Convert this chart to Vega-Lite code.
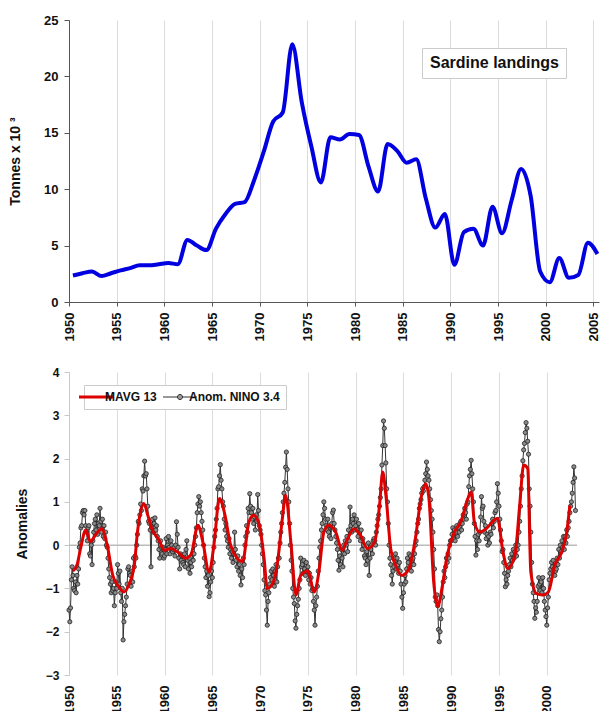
{
"$schema": "https://vega.github.io/schema/vega-lite/v6.json",
"padding": {"left": 8, "top": 14, "right": 2, "bottom": 0},
"spacing": 25,
"resolve": {"scale": {"color": "independent"}, "legend": {"color": "independent"}},
"config": {
  "view": {"stroke": null},
  "font": "Liberation Sans",
  "axis": {"labelFont": "Liberation Sans", "titleFont": "Liberation Sans", "labelFontWeight": "bold", "titleFontWeight": "bold", "labelColor": "#111", "titleColor": "#111"},
  "legend": {"labelFont": "Liberation Sans", "labelFontWeight": "bold", "labelColor": "#111"}
},
"datasets": {
"land": [
{"d":"1950-06","v":2.35},{"d":"1951-06","v":2.55},{"d":"1952-06","v":2.7},{"d":"1953-06","v":2.3},{"d":"1954-06","v":2.55},
{"d":"1955-06","v":2.8},{"d":"1956-06","v":3.0},{"d":"1957-06","v":3.25},{"d":"1958-06","v":3.25},{"d":"1959-06","v":3.35},
{"d":"1960-06","v":3.45},{"d":"1961-06","v":3.35},{"d":"1962-06","v":5.5},{"d":"1963-06","v":5.0},{"d":"1964-06","v":4.6},
{"d":"1965-06","v":6.5},{"d":"1966-06","v":7.8},{"d":"1967-06","v":8.7},{"d":"1968-06","v":8.85},{"d":"1969-06","v":10.8},
{"d":"1970-06","v":13.3},{"d":"1971-06","v":16.0},{"d":"1972-06","v":16.8},{"d":"1973-06","v":22.85},{"d":"1974-06","v":17.7},
{"d":"1975-06","v":13.8},{"d":"1976-06","v":10.6},{"d":"1977-06","v":14.6},{"d":"1978-06","v":14.4},{"d":"1979-06","v":14.9},
{"d":"1980-06","v":14.8},{"d":"1981-06","v":12.0},{"d":"1982-06","v":9.8},{"d":"1983-06","v":14.0},{"d":"1984-06","v":13.4},
{"d":"1985-06","v":12.35},{"d":"1986-06","v":12.65},{"d":"1987-06","v":9.2},{"d":"1988-06","v":6.6},{"d":"1989-06","v":7.8},
{"d":"1990-06","v":3.3},{"d":"1991-06","v":6.2},{"d":"1992-06","v":6.5},{"d":"1993-06","v":5.0},{"d":"1994-06","v":8.45},
{"d":"1995-06","v":6.1},{"d":"1996-06","v":9.0},{"d":"1997-06","v":11.8},{"d":"1998-06","v":9.4},{"d":"1999-06","v":2.7},
{"d":"2000-06","v":1.75},{"d":"2001-06","v":3.9},{"d":"2002-06","v":2.15},{"d":"2003-06","v":2.4},{"d":"2004-06","v":5.25},
{"d":"2005-06","v":4.25}
],
"mavg": [
{"d":"1950-06","v":-0.6},{"d":"1950-11","v":-0.46},{"d":"1951-04","v":-0.04},{"d":"1951-10","v":0.35},{"d":"1952-04","v":0.08},
{"d":"1952-10","v":0.23},{"d":"1953-06","v":0.38},{"d":"1954-01","v":0.0},{"d":"1954-08","v":-0.7},{"d":"1955-02","v":-0.92},
{"d":"1955-10","v":-1.08},{"d":"1956-04","v":-0.92},{"d":"1956-11","v":-0.46},{"d":"1957-03","v":0.3},{"d":"1957-11","v":0.96},
{"d":"1958-04","v":0.69},{"d":"1958-09","v":0.38},{"d":"1959-06","v":0.12},{"d":"1960-01","v":-0.12},{"d":"1960-09","v":-0.08},
{"d":"1961-05","v":-0.15},{"d":"1962-03","v":-0.3},{"d":"1962-10","v":-0.23},{"d":"1963-07","v":0.46},{"d":"1964-01","v":0.08},
{"d":"1964-09","v":-0.62},{"d":"1965-03","v":0.0},{"d":"1965-10","v":1.08},{"d":"1966-04","v":0.77},{"d":"1966-12","v":0.0},
{"d":"1967-08","v":-0.3},{"d":"1968-03","v":-0.38},{"d":"1968-11","v":0.54},{"d":"1969-05","v":0.69},{"d":"1969-12","v":0.46},
{"d":"1970-06","v":-0.3},{"d":"1970-10","v":-1.0},{"d":"1971-04","v":-0.92},{"d":"1971-11","v":-0.38},{"d":"1972-05","v":0.62},
{"d":"1972-09","v":1.15},{"d":"1973-04","v":0.0},{"d":"1973-10","v":-1.15},{"d":"1974-04","v":-0.7},{"d":"1975-01","v":-0.6},
{"d":"1975-09","v":-1.08},{"d":"1976-03","v":-0.6},{"d":"1976-09","v":0.3},{"d":"1977-03","v":0.46},{"d":"1977-12","v":0.3},
{"d":"1978-08","v":-0.12},{"d":"1979-03","v":0.15},{"d":"1979-11","v":0.38},{"d":"1980-07","v":0.23},{"d":"1981-04","v":-0.08},
{"d":"1982-01","v":0.08},{"d":"1982-07","v":0.92},{"d":"1982-11","v":1.69},{"d":"1983-03","v":1.15},{"d":"1983-09","v":-0.08},
{"d":"1984-03","v":-0.46},{"d":"1984-11","v":-0.7},{"d":"1985-08","v":-0.54},{"d":"1986-04","v":0.15},{"d":"1986-11","v":1.08},
{"d":"1987-05","v":1.42},{"d":"1987-09","v":1.08},{"d":"1988-03","v":-0.85},{"d":"1988-08","v":-1.42},{"d":"1989-02","v":-0.92},
{"d":"1989-08","v":-0.23},{"d":"1990-05","v":0.3},{"d":"1991-01","v":0.54},{"d":"1991-10","v":1.08},{"d":"1992-02","v":1.23},
{"d":"1992-06","v":0.54},{"d":"1993-01","v":0.3},{"d":"1993-09","v":0.38},{"d":"1994-05","v":0.54},{"d":"1994-11","v":0.62},
{"d":"1995-06","v":-0.15},{"d":"1995-12","v":-0.54},{"d":"1996-09","v":-0.23},{"d":"1997-03","v":0.92},{"d":"1997-08","v":1.85},
{"d":"1998-01","v":1.77},{"d":"1998-05","v":-0.62},{"d":"1998-12","v":-1.12},{"d":"1999-08","v":-1.15},{"d":"2000-03","v":-1.08},
{"d":"2000-11","v":-0.46},{"d":"2001-08","v":-0.15},{"d":"2002-02","v":0.3},{"d":"2002-06","v":0.92}
],
"nino": [
{"d":"1950-01","v":-1.5},{"d":"1950-02","v":-1.77},{"d":"1950-03","v":-1.45},{"d":"1950-04","v":-0.8},{"d":"1950-05","v":-0.5},{"d":"1950-06","v":-0.7},{"d":"1950-07","v":-1.0},{"d":"1950-08","v":-1.05},{"d":"1950-09","v":-0.85},{"d":"1950-10","v":-1.1},{"d":"1950-11","v":-0.7},{"d":"1950-12","v":-0.9},
{"d":"1951-01","v":-0.55},{"d":"1951-02","v":-0.05},{"d":"1951-03","v":0.05},{"d":"1951-04","v":0.4},{"d":"1951-05","v":0.45},{"d":"1951-06","v":0.75},{"d":"1951-07","v":0.8},{"d":"1951-08","v":0.7},{"d":"1951-09","v":0.8},{"d":"1951-10","v":0.45},{"d":"1951-11","v":0.3},{"d":"1951-12","v":0.1},
{"d":"1952-01","v":0.4},{"d":"1952-02","v":0.45},{"d":"1952-03","v":-0.2},{"d":"1952-04","v":-0.25},{"d":"1952-05","v":0.0},{"d":"1952-06","v":-0.45},{"d":"1952-07","v":0.1},{"d":"1952-08","v":0.3},{"d":"1952-09","v":0.5},{"d":"1952-10","v":0.6},{"d":"1952-11","v":0.35},{"d":"1952-12","v":0.7},
{"d":"1953-01","v":0.25},{"d":"1953-02","v":0.5},{"d":"1953-03","v":0.45},{"d":"1953-04","v":0.85},{"d":"1953-05","v":0.55},{"d":"1953-06","v":0.3},{"d":"1953-07","v":0.6},{"d":"1953-08","v":0.2},{"d":"1953-09","v":0.45},{"d":"1953-10","v":0.15},{"d":"1953-11","v":0.3},{"d":"1953-12","v":0.0},
{"d":"1954-01","v":-0.05},{"d":"1954-02","v":-0.3},{"d":"1954-03","v":-0.55},{"d":"1954-04","v":-0.75},{"d":"1954-05","v":-0.9},{"d":"1954-06","v":-1.1},{"d":"1954-07","v":-0.85},{"d":"1954-08","v":-1.05},{"d":"1954-09","v":-1.0},{"d":"1954-10","v":-1.4},{"d":"1954-11","v":-1.1},{"d":"1954-12","v":-0.85},
{"d":"1955-01","v":-1.0},{"d":"1955-02","v":-0.45},{"d":"1955-03","v":-0.65},{"d":"1955-04","v":-0.9},{"d":"1955-05","v":-0.6},{"d":"1955-06","v":-1.1},{"d":"1955-07","v":-1.3},{"d":"1955-08","v":-1.0},{"d":"1955-09","v":-2.19},{"d":"1955-10","v":-1.77},{"d":"1955-11","v":-1.6},{"d":"1955-12","v":-1.4},
{"d":"1956-01","v":-1.2},{"d":"1956-02","v":-0.9},{"d":"1956-03","v":-0.55},{"d":"1956-04","v":-0.5},{"d":"1956-05","v":-0.65},{"d":"1956-06","v":-0.7},{"d":"1956-07","v":-0.95},{"d":"1956-08","v":-0.6},{"d":"1956-09","v":-0.85},{"d":"1956-10","v":-0.3},{"d":"1956-11","v":-0.5},{"d":"1956-12","v":-0.25},
{"d":"1957-01","v":-0.3},{"d":"1957-02","v":0.0},{"d":"1957-03","v":0.25},{"d":"1957-04","v":0.55},{"d":"1957-05","v":0.5},{"d":"1957-06","v":0.7},{"d":"1957-07","v":0.95},{"d":"1957-08","v":0.8},{"d":"1957-09","v":1.3},{"d":"1957-10","v":1.25},{"d":"1957-11","v":1.6},{"d":"1957-12","v":1.94},
{"d":"1958-01","v":1.6},{"d":"1958-02","v":1.65},{"d":"1958-03","v":1.3},{"d":"1958-04","v":0.9},{"d":"1958-05","v":0.55},{"d":"1958-06","v":0.5},{"d":"1958-07","v":0.35},{"d":"1958-08","v":-0.5},{"d":"1958-09","v":0.4},{"d":"1958-10","v":0.6},{"d":"1958-11","v":0.3},{"d":"1958-12","v":0.5},
{"d":"1959-01","v":0.63},{"d":"1959-02","v":0.35},{"d":"1959-03","v":0.45},{"d":"1959-04","v":0.2},{"d":"1959-05","v":0.1},{"d":"1959-06","v":-0.1},{"d":"1959-07","v":-0.3},{"d":"1959-08","v":0.1},{"d":"1959-09","v":-0.05},{"d":"1959-10","v":-0.2},{"d":"1959-11","v":-0.05},{"d":"1959-12","v":-0.3},
{"d":"1960-01","v":-0.25},{"d":"1960-02","v":-0.1},{"d":"1960-03","v":0.15},{"d":"1960-04","v":-0.2},{"d":"1960-05","v":0.0},{"d":"1960-06","v":0.2},{"d":"1960-07","v":-0.05},{"d":"1960-08","v":-0.2},{"d":"1960-09","v":0.1},{"d":"1960-10","v":0.0},{"d":"1960-11","v":-0.15},{"d":"1960-12","v":-0.1},
{"d":"1961-01","v":-0.05},{"d":"1961-02","v":-0.25},{"d":"1961-03","v":0.0},{"d":"1961-04","v":0.54},{"d":"1961-05","v":0.25},{"d":"1961-06","v":-0.05},{"d":"1961-07","v":-0.3},{"d":"1961-08","v":-0.55},{"d":"1961-09","v":-0.2},{"d":"1961-10","v":-0.35},{"d":"1961-11","v":-0.25},{"d":"1961-12","v":-0.4},
{"d":"1962-01","v":-0.45},{"d":"1962-02","v":-0.2},{"d":"1962-03","v":-0.5},{"d":"1962-04","v":-0.1},{"d":"1962-05","v":0.1},{"d":"1962-06","v":-0.35},{"d":"1962-07","v":-0.55},{"d":"1962-08","v":-0.3},{"d":"1962-09","v":-0.65},{"d":"1962-10","v":-0.4},{"d":"1962-11","v":-0.5},{"d":"1962-12","v":-0.2},
{"d":"1963-01","v":-0.35},{"d":"1963-02","v":-0.2},{"d":"1963-03","v":0.0},{"d":"1963-04","v":0.2},{"d":"1963-05","v":0.4},{"d":"1963-06","v":0.75},{"d":"1963-07","v":0.95},{"d":"1963-08","v":1.12},{"d":"1963-09","v":0.9},{"d":"1963-10","v":1.0},{"d":"1963-11","v":0.75},{"d":"1963-12","v":0.55},
{"d":"1964-01","v":0.35},{"d":"1964-02","v":0.0},{"d":"1964-03","v":-0.3},{"d":"1964-04","v":-0.5},{"d":"1964-05","v":-0.75},{"d":"1964-06","v":-0.6},{"d":"1964-07","v":-0.95},{"d":"1964-08","v":-0.7},{"d":"1964-09","v":-1.19},{"d":"1964-10","v":-1.1},{"d":"1964-11","v":-0.85},{"d":"1964-12","v":-0.6},
{"d":"1965-01","v":-0.75},{"d":"1965-02","v":-0.4},{"d":"1965-03","v":-0.05},{"d":"1965-04","v":0.2},{"d":"1965-05","v":0.35},{"d":"1965-06","v":0.6},{"d":"1965-07","v":0.85},{"d":"1965-08","v":1.3},{"d":"1965-09","v":1.35},{"d":"1965-10","v":1.6},{"d":"1965-11","v":1.86},{"d":"1965-12","v":1.5},
{"d":"1966-01","v":1.3},{"d":"1966-02","v":1.0},{"d":"1966-03","v":0.9},{"d":"1966-04","v":0.6},{"d":"1966-05","v":0.35},{"d":"1966-06","v":0.5},{"d":"1966-07","v":0.2},{"d":"1966-08","v":0.1},{"d":"1966-09","v":-0.05},{"d":"1966-10","v":0.15},{"d":"1966-11","v":-0.2},{"d":"1966-12","v":-0.1},
{"d":"1967-01","v":-0.3},{"d":"1967-02","v":-0.15},{"d":"1967-03","v":-0.4},{"d":"1967-04","v":-0.2},{"d":"1967-05","v":0.3},{"d":"1967-06","v":-0.1},{"d":"1967-07","v":-0.35},{"d":"1967-08","v":-0.5},{"d":"1967-09","v":-0.25},{"d":"1967-10","v":-0.6},{"d":"1967-11","v":-0.45},{"d":"1967-12","v":-0.7},
{"d":"1968-01","v":-0.92},{"d":"1968-02","v":-0.55},{"d":"1968-03","v":-0.75},{"d":"1968-04","v":-0.3},{"d":"1968-05","v":-0.45},{"d":"1968-06","v":0.0},{"d":"1968-07","v":0.2},{"d":"1968-08","v":0.45},{"d":"1968-09","v":0.3},{"d":"1968-10","v":0.85},{"d":"1968-11","v":0.75},{"d":"1968-12","v":1.19},
{"d":"1969-01","v":0.9},{"d":"1969-02","v":0.75},{"d":"1969-03","v":0.6},{"d":"1969-04","v":0.85},{"d":"1969-05","v":0.5},{"d":"1969-06","v":0.65},{"d":"1969-07","v":0.35},{"d":"1969-08","v":0.7},{"d":"1969-09","v":0.55},{"d":"1969-10","v":1.17},{"d":"1969-11","v":0.8},{"d":"1969-12","v":0.45},
{"d":"1970-01","v":0.35},{"d":"1970-02","v":0.25},{"d":"1970-03","v":0.0},{"d":"1970-04","v":-0.2},{"d":"1970-05","v":-0.45},{"d":"1970-06","v":-0.8},{"d":"1970-07","v":-1.05},{"d":"1970-08","v":-1.15},{"d":"1970-09","v":-1.5},{"d":"1970-10","v":-1.85},{"d":"1970-11","v":-1.3},{"d":"1970-12","v":-1.1},
{"d":"1971-01","v":-0.9},{"d":"1971-02","v":-0.75},{"d":"1971-03","v":-0.6},{"d":"1971-04","v":-0.8},{"d":"1971-05","v":-0.55},{"d":"1971-06","v":-0.7},{"d":"1971-07","v":-0.95},{"d":"1971-08","v":-0.6},{"d":"1971-09","v":-0.45},{"d":"1971-10","v":-0.85},{"d":"1971-11","v":-0.5},{"d":"1971-12","v":-0.3},
{"d":"1972-01","v":-0.3},{"d":"1972-02","v":0.05},{"d":"1972-03","v":0.3},{"d":"1972-04","v":0.5},{"d":"1972-05","v":0.75},{"d":"1972-06","v":1.0},{"d":"1972-07","v":1.2},{"d":"1972-08","v":1.45},{"d":"1972-09","v":1.8},{"d":"1972-10","v":2.15},{"d":"1972-11","v":1.75},{"d":"1972-12","v":1.3},
{"d":"1973-01","v":1.0},{"d":"1973-02","v":0.5},{"d":"1973-03","v":0.0},{"d":"1973-04","v":-0.35},{"d":"1973-05","v":-0.6},{"d":"1973-06","v":-1.0},{"d":"1973-07","v":-1.2},{"d":"1973-08","v":-1.35},{"d":"1973-09","v":-1.75},{"d":"1973-10","v":-1.92},{"d":"1973-11","v":-1.6},{"d":"1973-12","v":-1.4},
{"d":"1974-01","v":-1.25},{"d":"1974-02","v":-1.0},{"d":"1974-03","v":-0.8},{"d":"1974-04","v":-0.3},{"d":"1974-05","v":-0.5},{"d":"1974-06","v":-0.45},{"d":"1974-07","v":-0.65},{"d":"1974-08","v":-0.35},{"d":"1974-09","v":-0.55},{"d":"1974-10","v":-0.7},{"d":"1974-11","v":-0.4},{"d":"1974-12","v":-0.6},
{"d":"1975-01","v":-0.5},{"d":"1975-02","v":-0.8},{"d":"1975-03","v":-0.65},{"d":"1975-04","v":-0.9},{"d":"1975-05","v":-0.75},{"d":"1975-06","v":-1.05},{"d":"1975-07","v":-1.0},{"d":"1975-08","v":-1.3},{"d":"1975-09","v":-1.5},{"d":"1975-10","v":-1.85},{"d":"1975-11","v":-1.4},{"d":"1975-12","v":-1.2},
{"d":"1976-01","v":-0.95},{"d":"1976-02","v":-0.6},{"d":"1976-03","v":-0.3},{"d":"1976-04","v":-0.05},{"d":"1976-05","v":0.1},{"d":"1976-06","v":0.35},{"d":"1976-07","v":0.5},{"d":"1976-08","v":0.7},{"d":"1976-09","v":1.0},{"d":"1976-10","v":0.85},{"d":"1976-11","v":0.6},{"d":"1976-12","v":0.45},
{"d":"1977-01","v":0.35},{"d":"1977-02","v":0.6},{"d":"1977-03","v":0.3},{"d":"1977-04","v":0.2},{"d":"1977-05","v":0.45},{"d":"1977-06","v":0.15},{"d":"1977-07","v":0.5},{"d":"1977-08","v":0.75},{"d":"1977-09","v":0.81},{"d":"1977-10","v":0.5},{"d":"1977-11","v":0.35},{"d":"1977-12","v":0.2},
{"d":"1978-01","v":0.05},{"d":"1978-02","v":-0.1},{"d":"1978-03","v":-0.35},{"d":"1978-04","v":-0.58},{"d":"1978-05","v":-0.25},{"d":"1978-06","v":-0.45},{"d":"1978-07","v":-0.1},{"d":"1978-08","v":-0.3},{"d":"1978-09","v":-0.5},{"d":"1978-10","v":0.0},{"d":"1978-11","v":-0.2},{"d":"1978-12","v":0.1},
{"d":"1979-01","v":0.0},{"d":"1979-02","v":0.2},{"d":"1979-03","v":-0.15},{"d":"1979-04","v":0.35},{"d":"1979-05","v":0.1},{"d":"1979-06","v":0.88},{"d":"1979-07","v":0.45},{"d":"1979-08","v":0.3},{"d":"1979-09","v":0.6},{"d":"1979-10","v":0.5},{"d":"1979-11","v":0.7},{"d":"1979-12","v":0.35},
{"d":"1980-01","v":0.45},{"d":"1980-02","v":0.6},{"d":"1980-03","v":0.35},{"d":"1980-04","v":0.2},{"d":"1980-05","v":0.5},{"d":"1980-06","v":0.3},{"d":"1980-07","v":0.1},{"d":"1980-08","v":0.35},{"d":"1980-09","v":-0.1},{"d":"1980-10","v":0.15},{"d":"1980-11","v":0.0},{"d":"1980-12","v":-0.25},
{"d":"1981-01","v":-0.3},{"d":"1981-02","v":-0.45},{"d":"1981-03","v":-0.15},{"d":"1981-04","v":-0.35},{"d":"1981-05","v":0.05},{"d":"1981-06","v":-0.7},{"d":"1981-07","v":-0.3},{"d":"1981-08","v":-0.1},{"d":"1981-09","v":0.0},{"d":"1981-10","v":-0.2},{"d":"1981-11","v":0.1},{"d":"1981-12","v":0.15},
{"d":"1982-01","v":0.1},{"d":"1982-02","v":0.0},{"d":"1982-03","v":0.3},{"d":"1982-04","v":0.45},{"d":"1982-05","v":0.6},{"d":"1982-06","v":0.7},{"d":"1982-07","v":0.9},{"d":"1982-08","v":1.1},{"d":"1982-09","v":1.3},{"d":"1982-10","v":1.85},{"d":"1982-11","v":2.3},{"d":"1982-12","v":2.87},
{"d":"1983-01","v":2.7},{"d":"1983-02","v":2.3},{"d":"1983-03","v":1.9},{"d":"1983-04","v":1.3},{"d":"1983-05","v":1.0},{"d":"1983-06","v":0.5},{"d":"1983-07","v":0.0},{"d":"1983-08","v":-0.3},{"d":"1983-09","v":-0.45},{"d":"1983-10","v":-0.7},{"d":"1983-11","v":-0.9},{"d":"1983-12","v":-0.6},
{"d":"1984-01","v":-0.5},{"d":"1984-02","v":-0.3},{"d":"1984-03","v":-0.2},{"d":"1984-04","v":-0.55},{"d":"1984-05","v":-0.3},{"d":"1984-06","v":-0.45},{"d":"1984-07","v":-0.65},{"d":"1984-08","v":-0.4},{"d":"1984-09","v":-0.6},{"d":"1984-10","v":-0.9},{"d":"1984-11","v":-1.2},{"d":"1984-12","v":-1.46},
{"d":"1985-01","v":-1.1},{"d":"1985-02","v":-0.9},{"d":"1985-03","v":-0.7},{"d":"1985-04","v":-0.85},{"d":"1985-05","v":-0.55},{"d":"1985-06","v":-0.3},{"d":"1985-07","v":-0.4},{"d":"1985-08","v":-0.2},{"d":"1985-09","v":-0.5},{"d":"1985-10","v":-0.25},{"d":"1985-11","v":-0.6},{"d":"1985-12","v":-0.35},
{"d":"1986-01","v":-0.3},{"d":"1986-02","v":-0.45},{"d":"1986-03","v":-0.2},{"d":"1986-04","v":0.0},{"d":"1986-05","v":0.1},{"d":"1986-06","v":0.3},{"d":"1986-07","v":0.5},{"d":"1986-08","v":0.6},{"d":"1986-09","v":0.85},{"d":"1986-10","v":0.95},{"d":"1986-11","v":1.05},{"d":"1986-12","v":1.2},
{"d":"1987-01","v":1.3},{"d":"1987-02","v":1.25},{"d":"1987-03","v":1.35},{"d":"1987-04","v":1.5},{"d":"1987-05","v":1.65},{"d":"1987-06","v":1.92},{"d":"1987-07","v":1.75},{"d":"1987-08","v":1.6},{"d":"1987-09","v":1.5},{"d":"1987-10","v":1.3},{"d":"1987-11","v":1.05},{"d":"1987-12","v":0.8},
{"d":"1988-01","v":0.6},{"d":"1988-02","v":0.3},{"d":"1988-03","v":-0.1},{"d":"1988-04","v":-0.55},{"d":"1988-05","v":-1.2},{"d":"1988-06","v":-1.3},{"d":"1988-07","v":-1.15},{"d":"1988-08","v":-1.4},{"d":"1988-09","v":-1.95},{"d":"1988-10","v":-2.23},{"d":"1988-11","v":-2.0},{"d":"1988-12","v":-1.7},
{"d":"1989-01","v":-1.5},{"d":"1989-02","v":-1.2},{"d":"1989-03","v":-0.85},{"d":"1989-04","v":-0.6},{"d":"1989-05","v":-0.75},{"d":"1989-06","v":-0.5},{"d":"1989-07","v":-0.3},{"d":"1989-08","v":-0.4},{"d":"1989-09","v":-0.2},{"d":"1989-10","v":-0.3},{"d":"1989-11","v":0.0},{"d":"1989-12","v":0.1},
{"d":"1990-01","v":0.1},{"d":"1990-02","v":0.25},{"d":"1990-03","v":0.4},{"d":"1990-04","v":0.15},{"d":"1990-05","v":0.35},{"d":"1990-06","v":0.1},{"d":"1990-07","v":0.3},{"d":"1990-08","v":0.45},{"d":"1990-09","v":0.2},{"d":"1990-10","v":0.4},{"d":"1990-11","v":0.3},{"d":"1990-12","v":0.5},
{"d":"1991-01","v":0.55},{"d":"1991-02","v":0.35},{"d":"1991-03","v":0.5},{"d":"1991-04","v":0.7},{"d":"1991-05","v":0.6},{"d":"1991-06","v":0.85},{"d":"1991-07","v":0.75},{"d":"1991-08","v":0.6},{"d":"1991-09","v":0.95},{"d":"1991-10","v":1.0},{"d":"1991-11","v":1.35},{"d":"1991-12","v":1.6},
{"d":"1992-01","v":1.75},{"d":"1992-02","v":1.96},{"d":"1992-03","v":1.65},{"d":"1992-04","v":1.3},{"d":"1992-05","v":1.0},{"d":"1992-06","v":0.5},{"d":"1992-07","v":0.2},{"d":"1992-08","v":-0.23},{"d":"1992-09","v":0.1},{"d":"1992-10","v":-0.1},{"d":"1992-11","v":0.25},{"d":"1992-12","v":0.1},
{"d":"1993-01","v":0.3},{"d":"1993-02","v":0.65},{"d":"1993-03","v":1.12},{"d":"1993-04","v":0.85},{"d":"1993-05","v":0.9},{"d":"1993-06","v":0.55},{"d":"1993-07","v":0.3},{"d":"1993-08","v":0.45},{"d":"1993-09","v":0.15},{"d":"1993-10","v":0.25},{"d":"1993-11","v":0.0},{"d":"1993-12","v":0.2},
{"d":"1994-01","v":0.05},{"d":"1994-02","v":0.3},{"d":"1994-03","v":0.25},{"d":"1994-04","v":0.5},{"d":"1994-05","v":0.6},{"d":"1994-06","v":0.4},{"d":"1994-07","v":0.55},{"d":"1994-08","v":0.75},{"d":"1994-09","v":0.8},{"d":"1994-10","v":1.0},{"d":"1994-11","v":1.42},{"d":"1994-12","v":1.2},
{"d":"1995-01","v":0.9},{"d":"1995-02","v":0.6},{"d":"1995-03","v":0.35},{"d":"1995-04","v":0.1},{"d":"1995-05","v":-0.15},{"d":"1995-06","v":-0.1},{"d":"1995-07","v":-0.4},{"d":"1995-08","v":-0.65},{"d":"1995-09","v":-0.96},{"d":"1995-10","v":-0.8},{"d":"1995-11","v":-0.9},{"d":"1995-12","v":-0.7},
{"d":"1996-01","v":-0.6},{"d":"1996-02","v":-0.45},{"d":"1996-03","v":-0.3},{"d":"1996-04","v":-0.5},{"d":"1996-05","v":-0.2},{"d":"1996-06","v":-0.35},{"d":"1996-07","v":-0.1},{"d":"1996-08","v":-0.3},{"d":"1996-09","v":-0.15},{"d":"1996-10","v":0.0},{"d":"1996-11","v":-0.25},{"d":"1996-12","v":-0.1},
{"d":"1997-01","v":0.0},{"d":"1997-02","v":0.3},{"d":"1997-03","v":0.55},{"d":"1997-04","v":0.9},{"d":"1997-05","v":1.3},{"d":"1997-06","v":1.6},{"d":"1997-07","v":1.95},{"d":"1997-08","v":2.2},{"d":"1997-09","v":2.35},{"d":"1997-10","v":2.6},{"d":"1997-11","v":2.83},{"d":"1997-12","v":2.7},
{"d":"1998-01","v":2.4},{"d":"1998-02","v":2.1},{"d":"1998-03","v":1.3},{"d":"1998-04","v":0.9},{"d":"1998-05","v":0.3},{"d":"1998-06","v":-0.4},{"d":"1998-07","v":-0.9},{"d":"1998-08","v":-1.1},{"d":"1998-09","v":-1.3},{"d":"1998-10","v":-1.69},{"d":"1998-11","v":-1.45},{"d":"1998-12","v":-1.55},
{"d":"1999-01","v":-1.3},{"d":"1999-02","v":-0.95},{"d":"1999-03","v":-0.75},{"d":"1999-04","v":-0.9},{"d":"1999-05","v":-1.05},{"d":"1999-06","v":-0.85},{"d":"1999-07","v":-1.1},{"d":"1999-08","v":-0.75},{"d":"1999-09","v":-1.0},{"d":"1999-10","v":-1.3},{"d":"1999-11","v":-1.5},{"d":"1999-12","v":-1.65},
{"d":"2000-01","v":-1.85},{"d":"2000-02","v":-1.45},{"d":"2000-03","v":-1.2},{"d":"2000-04","v":-0.8},{"d":"2000-05","v":-0.65},{"d":"2000-06","v":-0.55},{"d":"2000-07","v":-0.4},{"d":"2000-08","v":-0.5},{"d":"2000-09","v":-0.35},{"d":"2000-10","v":-0.55},{"d":"2000-11","v":-0.7},{"d":"2000-12","v":-0.6},
{"d":"2001-01","v":-0.55},{"d":"2001-02","v":-0.3},{"d":"2001-03","v":-0.45},{"d":"2001-04","v":-0.1},{"d":"2001-05","v":-0.3},{"d":"2001-06","v":0.0},{"d":"2001-07","v":-0.15},{"d":"2001-08","v":0.1},{"d":"2001-09","v":-0.05},{"d":"2001-10","v":0.2},{"d":"2001-11","v":-0.1},{"d":"2001-12","v":0.2},
{"d":"2002-01","v":0.05},{"d":"2002-02","v":0.35},{"d":"2002-03","v":0.2},{"d":"2002-04","v":0.4},{"d":"2002-05","v":0.55},{"d":"2002-06","v":0.75},{"d":"2002-07","v":0.9},{"d":"2002-08","v":1.0},{"d":"2002-09","v":1.2},{"d":"2002-10","v":1.45},{"d":"2002-11","v":1.81},{"d":"2002-12","v":1.55},
{"d":"2003-01","v":0.8}
]
},
"vconcat": [
{
  "width": 530, "height": 282,
  "data": {"name": "land"},
  "mark": {"type": "line", "interpolate": "monotone", "strokeWidth": 4},
  "encoding": {
    "x": {"field": "d", "type": "temporal",
      "scale": {"domain": [{"year": 1950, "month": 1, "date": 1}, {"year": 2005, "month": 8, "date": 1}], "nice": false},
      "axis": {"title": null, "format": "%Y", "labelAngle": 270, "tickCount": {"interval": "year", "step": 5}, "grid": true, "gridColor": "#dcdcdc", "domainColor": "#555", "tickColor": "#555", "tickSize": 4, "labelPadding": 6, "labelFontSize": 13}},
    "y": {"field": "v", "type": "quantitative",
      "scale": {"domain": [0, 25]},
      "axis": {"title": "Tonnes x 10 ³", "values": [0, 5, 10, 15, 20, 25], "grid": false, "domainColor": "#555", "tickColor": "#555", "tickSize": 5, "labelPadding": 6, "labelFontSize": 13, "titleFontSize": 14, "titlePadding": 21}},
    "color": {"datum": "Sardine landings", "scale": {"range": ["#0000e0"]},
      "legend": {"title": null, "orient": "none", "legendX": 353, "legendY": 28, "symbolSize": 0, "symbolOpacity": 0, "symbolStrokeWidth": 0, "labelOffset": -15, "labelFontSize": 16, "padding": 7, "strokeColor": "#cccccc", "fillColor": "white"}}
  }
},
{
  "width": 508, "height": 303,
  "layer": [
    {"data": {"values": [{"z": 0}]}, "mark": {"type": "rule", "color": "#bbbbbb", "strokeWidth": 1.5}, "encoding": {"y": {"field": "z", "type": "quantitative"}}},
    {"data": {"name": "nino"}, "mark": {"type": "line", "strokeWidth": 1},
      "encoding": {
        "x": {"field": "d", "type": "temporal",
          "scale": {"domain": [{"year": 1950, "month": 1, "date": 1}, {"year": 2003, "month": 3, "date": 1}], "nice": false},
          "axis": {"title": null, "format": "%Y", "labelAngle": 270, "tickCount": {"interval": "year", "step": 5}, "grid": true, "gridColor": "#dcdcdc", "domain": false, "ticks": false, "labelPadding": 10, "labelFontSize": 13}},
        "y": {"field": "v", "type": "quantitative",
          "scale": {"domain": [-3, 4]},
          "axis": {"title": "Anomalies", "values": [-3, -2, -1, 0, 1, 2, 3, 4], "grid": false, "domainColor": "#c8c8c8", "tickColor": "#c8c8c8", "tickSize": 5, "labelPadding": 5, "labelFontSize": 12, "titleFontSize": 14, "titlePadding": 16}},
        "color": {"datum": "Anom. NINO 3.4", "scale": {"domain": ["MAVG 13", "Anom. NINO 3.4"], "range": ["#dd0000", "#333333"]},
          "legend": {"title": null, "orient": "none", "legendX": 15, "legendY": 13, "direction": "horizontal", "columns": 2, "symbolSize": 1156, "symbolType": "stroke", "labelOffset": 3, "columnPadding": 4, "padding": 6, "strokeColor": "#cccccc", "fillColor": "white", "labelFontSize": 12,
            "encoding": {"symbols": {
              "shape": {"value": {"expr": "datum.value === 'MAVG 13' ? 'stroke' : 'M-1,0H-0.15M0.15,0H1M0.15,0A0.15,0.15,0,1,1,-0.15,0A0.15,0.15,0,1,1,0.15,0'"}},
              "strokeWidth": {"value": {"expr": "datum.value === 'MAVG 13' ? 3 : 1"}},
              "fill": {"value": "#999999"}}}}}
      }},
    {"data": {"name": "nino"}, "mark": {"type": "point", "filled": true, "fill": "#8a8a8a", "stroke": "#222222", "strokeWidth": 0.8, "size": 18, "opacity": 1},
      "encoding": {"x": {"field": "d", "type": "temporal"}, "y": {"field": "v", "type": "quantitative"}}},
    {"data": {"name": "mavg"}, "mark": {"type": "line", "strokeWidth": 3, "interpolate": "monotone"},
      "encoding": {"x": {"field": "d", "type": "temporal"}, "y": {"field": "v", "type": "quantitative"}, "color": {"datum": "MAVG 13"}}}
  ]
}
]
}
